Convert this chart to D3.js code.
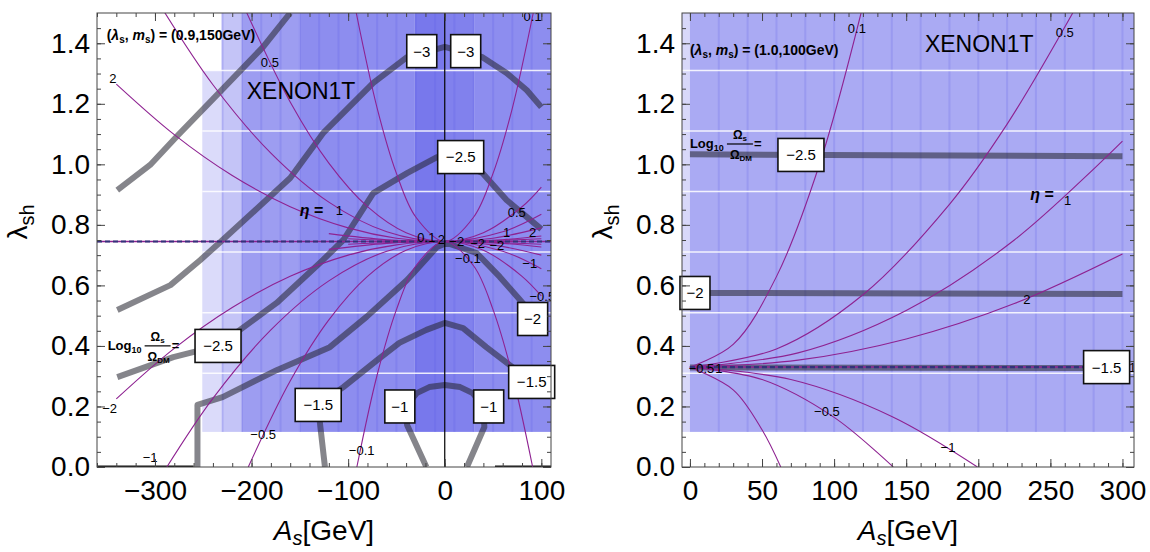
<!DOCTYPE html>
<html lang="en">
<head>
<meta charset="UTF-8">
<title>XENON1T - eta and relic density contours</title>
<script src="https://d3js.org/d3.v7.min.js"></script>
<style>
  body { margin: 0; background: #fff; }
  svg text { font-family: "Liberation Sans", Arial, sans-serif; fill: #000; }
  .tick text { font-size: 28px; }
  .tick line { stroke: #444; }
  .eta-label { font-size: 13px; }
  .box-label { font-size: 15px; }
  .header { font-size: 14px; font-weight: bold; }
  .xenon { font-size: 23px; }
  .title { font-size: 28px; }
</style>
</head>
<body>
<svg width="1150" height="552"></svg>
<script>
// ---------- shared ----------
const yTicks = [0, 0.2, 0.4, 0.6, 0.8, 1.0, 1.2, 1.4];
const rowEdges = [0.31, 0.51, 0.71, 0.91, 1.11, 1.31];   // white seams in the XENON1T shading

// ---------- left panel: (lambda_s, m_s) = (0.9, 150 GeV) ----------
const leftXTicks = [-300, -200, -100, 0, 100];
// [A from, A to, lambda from, lambda to, shade]
const leftBands = [
  [-251, -231, 0.116, 1.31, 0.22],
  [-231, -210, 0.116, 1.5, 0.36],
  [-210, -150, 0.116, 1.5, 0.6],
  [-150, -31, 0.116, 1.5, 0.7],
  [-31, 0, 0.116, 1.5, 0.83],
  [0, 31, 0.116, 1.5, 0.77],
  [31, 110, 0.116, 1.5, 0.7]
];
const leftStripes = [-230, -210, -190, -170, -150, -130, -110, -90, -70, -50, -30, -10, 10, 30, 50, 70, 90];

// Log10(Omega_s/Omega_DM) contours
const leftLogM35 = [[-339, 0.915], [-305, 0.998], [-276, 1.097], [-231, 1.245], [-188, 1.388], [-160, 1.5]];
const leftLogM3 = [[-339, 0.519], [-284, 0.601], [-253, 0.684], [-230, 0.75], [-196, 0.849], [-160, 0.955],
  [-126, 1.103], [-74, 1.269], [-39, 1.354], [0, 1.388], [39, 1.354], [64, 1.302], [85, 1.245], [100, 1.189]];
const leftLogM25 = [[-339, 0.297], [-281, 0.363], [-235, 0.4], [-212, 0.453], [-174, 0.542], [-126, 0.684],
  [-105, 0.75], [-74, 0.905], [-39, 0.971], [-8, 1.024], [2, 1.031], [39, 0.971], [64, 0.882], [100, 0.786]];
const leftLogM2 = [[-256, 0], [-256, 0.205], [-230, 0.231], [-174, 0.32], [-119, 0.396], [-81, 0.496],
  [-39, 0.618], [-23, 0.674], [-8, 0.727], [2, 0.74], [33, 0.707], [57, 0.628], [78, 0.552], [100, 0.47]];
const leftLogM15 = [[-124, 0], [-129, 0.139], [-131, 0.205], [-105, 0.264], [-70, 0.353], [-47, 0.41],
  [-19, 0.453], [0, 0.476], [19, 0.459], [43, 0.396], [70, 0.33], [100, 0.25]];
const leftLogM1 = [[-19, 0], [-39, 0.139], [-40, 0.2], [-29, 0.244], [-16, 0.264], [0, 0.271], [16, 0.264],
  [29, 0.244], [40, 0.2], [41, 0.132], [23, 0]];
const leftAxisSegments = [[[-360, 0], [-260, 0]], [[52, 0], [110, 0]]];

// [text, A, lambda]
const leftBoxes = [["−3", -23.8, 1.374], ["−3", 21.7, 1.374], ["−2.5", 16.5, 1.024], ["−2.5", -234.7, 0.4],
  ["−2", 91, 0.489], ["−1.5", -131, 0.205], ["−1.5", 90, 0.281], ["−1", -46.5, 0.2], ["−1", 45.5, 0.2]];

// eta contours (thin magenta), all meeting at lambda_sh = 0.745
const leftFocus = 0.745;
const etaL2 = [[-340, 1.265], [-280, 1.098], [-220, 0.963], [-160, 0.86], [-100, 0.79], [-50, 0.756], [0, 0.745], [50, 0.756], [100, 0.79]];
const etaL1 = [[-290, 1.502], [-240, 1.263], [-180, 1.037], [-120, 0.875], [-60, 0.777], [0, 0.745], [60, 0.777], [100, 0.835]];
const etaL05 = [[-205, 1.501], [-160, 1.206], [-120, 1.004], [-80, 0.86], [-40, 0.774], [0, 0.745], [40, 0.774], [80, 0.86], [100, 0.925]];
const etaL01 = [[-91.6, 1.5], [-70, 1.186], [-50, 0.97], [-30, 0.826], [0, 0.745], [30, 0.826], [50, 0.97], [70, 1.186], [91.6, 1.5]];
const etaL5 = [[-120, 0.771], [-60, 0.751], [0, 0.745], [60, 0.751], [100, 0.763]];
const etaL10 = [[-100, 0.754], [0, 0.745], [100, 0.754]];
const etaLm2 = [[-340, 0.225], [-280, 0.392], [-220, 0.527], [-160, 0.63], [-100, 0.7], [-50, 0.734], [0, 0.745], [50, 0.734], [100, 0.7]];
const etaLm1 = [[-287.7, 0], [-240, 0.227], [-180, 0.453], [-120, 0.615], [-60, 0.713], [0, 0.745], [60, 0.713], [100, 0.655]];
const etaLm05 = [[-203.4, 0], [-160, 0.284], [-120, 0.486], [-80, 0.63], [-40, 0.716], [0, 0.745], [40, 0.716], [80, 0.63], [100, 0.565]];
const etaLm01 = [[-91, 0], [-70, 0.304], [-50, 0.52], [-30, 0.664], [0, 0.745], [30, 0.664], [50, 0.52], [70, 0.304], [91, 0]];
const etaLm5 = [[-120, 0.719], [-60, 0.739], [0, 0.745], [60, 0.739], [100, 0.727]];
const etaLm10 = [[-100, 0.736], [0, 0.745], [100, 0.736]];
const leftEtaLabels = [["2", -343.7, 1.285], ["0.5", -181, 1.338], ["0.1", 91, 1.49], ["−2", -347, 0.195],
  ["−1", -305, 0.033], ["−0.5", -188, 0.109], ["−0.1", -86, 0.056], ["−0.1", 24, 0.69], ["−2", 12.4, 0.745],
  ["−2", 34, 0.739], ["−2", 54, 0.732], ["0.5", 74.5, 0.842], ["1", 64, 0.776], ["2", 91, 0.776],
  ["−1", 88, 0.674], ["−0.5", 101, 0.562], ["0.1", -19, 0.757], ["2", -3.5, 0.752], ["1", -109, 0.849]];

// ---------- right panel: (lambda_s, m_s) = (1.0, 100 GeV) ----------
const rightXTicks = [0, 50, 100, 150, 200, 250, 300];
const rightBands = [
  [-5.5, 0, 0.116, 1.5, 0.24],
  [0, 308, 0.116, 1.5, 0.52]
];
const rightStripes = [20, 40, 60, 80, 100, 120, 140, 160, 180, 200, 220, 240, 260, 280, 300];
const rightLogM25 = [[0, 1.033], [300, 1.027]];
const rightLogM2 = [[0, 0.575], [300, 0.572]];
const rightLogM15 = [[0, 0.329], [300, 0.327]];
const rightBoxes = [["−2.5", 77, 1.031], ["−2", 3.5, 0.575], ["−1.5", 289, 0.33]];
const rightFocus = 0.33;
const etaR01 = [[0, 0.33], [30, 0.405], [60, 0.629], [90, 1.002], [118.7, 1.5]];
const etaR05 = [[0, 0.33], [60, 0.39], [120, 0.569], [180, 0.868], [220, 1.133], [265.5, 1.5]];
const etaR1 = [[0, 0.33], [75, 0.377], [150, 0.517], [225, 0.75], [300, 1.077]];
const etaR2 = [[0, 0.33], [75, 0.353], [150, 0.423], [225, 0.54], [300, 0.704]];
const etaRm01 = [[0, 0.33], [30, 0.255], [50, 0.123], [63, 0]];
const etaRm05 = [[0, 0.33], [50, 0.289], [100, 0.164], [141, 0]];
const etaRm1 = [[0, 0.33], [70, 0.289], [140, 0.167], [199.4, 0]];
const rightEtaLabels = [["0.1", 115.8, 1.45], ["0.5", 260, 1.437], ["2", 233.7, 0.552], ["−0.5", 95, 0.182],
  ["−1", 179, 0.066], ["1", 262, 0.882], ["1", 307, 0.33], ["−0.5", 8, 0.327], ["1", 20, 0.327]];

// ---------- drawing ----------
const svg = d3.select("svg");
const shade = d3.scaleLinear().domain([0, 1]).range(["#ffffff", "#5c5ce8"]);

const panels = [
  { id: "L", xDomain: [-360, 110], left: 97, right: 551, xTicks: leftXTicks, minorStep: 20,
    bands: leftBands, stripes: leftStripes, rowFrom: -251,
    logs: [leftLogM35, leftLogM3, leftLogM25, leftLogM2, leftLogM15, leftLogM1],
    etas: [etaL2, etaL1, etaL05, etaL01, etaL5, etaL10, etaLm2, etaLm1, etaLm05, etaLm01, etaLm5, etaLm10],
    focus: leftFocus, focusRange: [-360, 110], boxes: leftBoxes, etaLabels: leftEtaLabels,
    header: ["0.9", "150GeV"], headerAt: [-350, 1.41], xenonAt: [-205, 1.215],
    etaEqAt: [-150, 0.83], logAt: [-349, 0.387], zeroLine: true, axisSegs: leftAxisSegments },
  { id: "R", xDomain: [-5.5, 308], left: 682, right: 1134, xTicks: rightXTicks, minorStep: 10,
    bands: rightBands, stripes: rightStripes, rowFrom: -5.5,
    logs: [rightLogM25, rightLogM2, rightLogM15],
    etas: [etaR01, etaR05, etaR1, etaR2, etaRm01, etaRm05, etaRm1],
    focus: rightFocus, focusRange: [0, 300], boxes: rightBoxes, etaLabels: rightEtaLabels,
    header: ["1.0", "100GeV"], headerAt: [0, 1.362], xenonAt: [163, 1.37],
    etaEqAt: [236, 0.882], logAt: [0, 1.054], zeroLine: false, axisSegs: [] }
];

const plotTop = 13, plotBottom = 467;

panels.forEach(p => {
  const x = d3.scaleLinear().domain(p.xDomain).range([p.left, p.right]);
  const y = d3.scaleLinear().domain([0, 1.5]).range([plotBottom, plotTop]);
  const clipId = "clip" + p.id;
  svg.append("clipPath").attr("id", clipId).append("rect")
    .attr("x", p.left).attr("y", plotTop).attr("width", p.right - p.left).attr("height", plotBottom - plotTop);
  const g = svg.append("g").attr("clip-path", `url(#${clipId})`);

  // XENON1T shading
  g.selectAll(null).data(p.bands).join("rect")
    .attr("x", d => x(d[0])).attr("width", d => x(d[1]) - x(d[0]))
    .attr("y", d => y(d[3])).attr("height", d => y(d[2]) - y(d[3]))
    .attr("fill", d => shade(d[4]));
  g.selectAll(null).data(p.stripes).join("line")
    .attr("x1", d => x(d)).attr("x2", d => x(d))
    .attr("y1", y(0.116)).attr("y2", y(1.5))
    .attr("stroke", "#5c5ce8").attr("stroke-opacity", 0.2).attr("stroke-width", 2);
  g.selectAll(null).data(rowEdges).join("line")
    .attr("x1", x(p.rowFrom)).attr("x2", p.right)
    .attr("y1", d => y(d)).attr("y2", d => y(d))
    .attr("stroke", "#fff").attr("stroke-opacity", 0.85).attr("stroke-width", 1.5);

  // relic density contours
  const lin = d3.line().x(d => x(d[0])).y(d => y(d[1]));
  g.selectAll(null).data(p.logs).join("path")
    .attr("d", lin).attr("fill", "none")
    .attr("stroke", "#262630").attr("stroke-opacity", 0.56)
    .attr("stroke-width", 6).attr("stroke-linejoin", "round");
  g.selectAll(null).data(p.axisSegs).join("path")
    .attr("d", lin).attr("stroke", "#111").attr("stroke-width", 3);

  // eta curves
  const smooth = d3.line().x(d => x(d[0])).y(d => y(d[1])).curve(d3.curveCatmullRom);
  g.selectAll(null).data(p.etas).join("path")
    .attr("d", smooth).attr("fill", "none")
    .attr("stroke", "#8e2291").attr("stroke-width", 1.1);

  // eta -> infinity line (dashed)
  const fl = [[p.focusRange[0], p.focus], [p.focusRange[1], p.focus]];
  g.append("path").attr("d", lin(fl)).attr("stroke", "#8e2291").attr("stroke-width", 1.5);
  g.append("path").attr("d", lin(fl)).attr("stroke", "#33337a").attr("stroke-width", 2.2)
    .attr("stroke-dasharray", "5,3");

  if (p.zeroLine) {
    g.append("line").attr("x1", x(0)).attr("x2", x(0)).attr("y1", plotTop).attr("y2", plotBottom)
      .attr("stroke", "#000").attr("stroke-width", 1.2);
  }

  // eta labels
  g.selectAll(null).data(p.etaLabels).join("text")
    .attr("class", "eta-label")
    .attr("x", d => x(d[1])).attr("y", d => y(d[2]))
    .attr("text-anchor", "middle").attr("dy", "0.35em")
    .text(d => d[0]);

  // eta = label
  g.append("text")
    .attr("x", x(p.etaEqAt[0])).attr("y", y(p.etaEqAt[1]))
    .attr("font-size", 16).attr("font-weight", "bold")
    .html('<tspan font-style="italic">η</tspan> =');

  // XENON1T
  g.append("text").attr("class", "xenon")
    .attr("x", x(p.xenonAt[0])).attr("y", y(p.xenonAt[1])).text("XENON1T");

  // (lambda_s, m_s) header
  const h = g.append("text").attr("class", "header")
    .attr("x", x(p.headerAt[0])).attr("y", y(p.headerAt[1]));
  h.append("tspan").text("(");
  h.append("tspan").attr("font-style", "italic").text("λ");
  h.append("tspan").attr("font-size", 10).attr("dy", 3).text("s");
  h.append("tspan").attr("dy", -3).text(", ");
  h.append("tspan").attr("font-style", "italic").text("m");
  h.append("tspan").attr("font-size", 10).attr("dy", 3).text("s");
  h.append("tspan").attr("dy", -3).text(`) = (${p.header[0]},${p.header[1]})`);

  // Log10 Omega_s / Omega_DM =
  const lx = x(p.logAt[0]), ly = y(p.logAt[1]);
  const lg = svg.append("g").attr("transform", `translate(${lx},${ly})`)
    .attr("font-weight", "bold");
  const lt = lg.append("text").attr("font-size", 13);
  lt.append("tspan").text("Log");
  lt.append("tspan").attr("font-size", 9).attr("dy", 3).text("10");
  const num = lg.append("text").attr("x", 50).attr("y", -9).attr("text-anchor", "middle").attr("font-size", 12);
  num.append("tspan").text("Ω");
  num.append("tspan").attr("font-size", 8).attr("dy", 2).text("s");
  lg.append("line").attr("x1", 37).attr("x2", 63).attr("y1", -4).attr("y2", -4)
    .attr("stroke", "#000").attr("stroke-width", 1.2);
  const den = lg.append("text").attr("x", 51).attr("y", 11).attr("text-anchor", "middle").attr("font-size", 12);
  den.append("tspan").text("Ω");
  den.append("tspan").attr("font-size", 8).attr("dy", 2).text("DM");
  lg.append("text").attr("x", 64).attr("y", 0).attr("font-size", 13).text("=");

  // contour value boxes
  const b = svg.append("g").selectAll(null).data(p.boxes).join("g")
    .attr("transform", d => `translate(${x(d[1])},${y(d[2])})`);
  b.append("rect")
    .attr("x", d => -(d[0].length * 8 + 14) / 2).attr("y", -16.5)
    .attr("width", d => d[0].length * 8 + 14).attr("height", 33)
    .attr("fill", "#fff").attr("stroke", "#111").attr("stroke-width", 1.6);
  b.append("text").attr("class", "box-label").attr("text-anchor", "middle").attr("dy", "0.36em")
    .text(d => d[0]);

  // frame and ticks (inside)
  const ax = svg.append("g");
  const minorX = d3.range(Math.ceil(p.xDomain[0] / p.minorStep) * p.minorStep, p.xDomain[1], p.minorStep);
  const minorY = d3.range(0, 1.5, 0.05);
  const noDomain = s => s.select(".domain").remove();
  ax.append("g").attr("transform", `translate(0,${plotBottom})`)
    .call(d3.axisBottom(x).tickValues(minorX).tickSize(-4).tickFormat("")).call(noDomain);
  ax.append("g").attr("transform", `translate(0,${plotTop})`)
    .call(d3.axisTop(x).tickValues(minorX).tickSize(-4).tickFormat("")).call(noDomain);
  ax.append("g").attr("transform", `translate(${p.left},0)`)
    .call(d3.axisLeft(y).tickValues(minorY).tickSize(-4).tickFormat("")).call(noDomain);
  ax.append("g").attr("transform", `translate(${p.right},0)`)
    .call(d3.axisRight(y).tickValues(minorY).tickSize(-4).tickFormat("")).call(noDomain);
  ax.append("g").attr("transform", `translate(0,${plotBottom})`)
    .call(d3.axisBottom(x).tickValues(p.xTicks).tickSize(-8).tickPadding(13).tickFormat(d3.format("d")))
    .call(noDomain);
  ax.append("g").attr("transform", `translate(0,${plotTop})`)
    .call(d3.axisTop(x).tickValues(p.xTicks).tickSize(-8).tickFormat("")).call(noDomain);
  ax.append("g").attr("transform", `translate(${p.left},0)`)
    .call(d3.axisLeft(y).tickValues(yTicks).tickSize(-8).tickPadding(7).tickFormat(d3.format(".1f")))
    .call(noDomain);
  ax.append("g").attr("transform", `translate(${p.right},0)`)
    .call(d3.axisRight(y).tickValues(yTicks).tickSize(-8).tickFormat("")).call(noDomain);
  ax.selectAll("text").attr("font-family", null).attr("font-size", null);
  ax.append("rect").attr("x", p.left).attr("y", plotTop)
    .attr("width", p.right - p.left).attr("height", plotBottom - plotTop)
    .attr("fill", "none").attr("stroke", "#444").attr("stroke-width", 1);

  // axis titles
  const cx = (p.left + p.right) / 2;
  const xt = svg.append("text").attr("class", "title").attr("x", cx).attr("y", 540).attr("text-anchor", "middle");
  xt.append("tspan").attr("font-style", "italic").text("A");
  xt.append("tspan").attr("font-style", "italic").attr("font-size", 20).attr("dy", 5).text("s");
  xt.append("tspan").attr("dy", -5).text("[GeV]");
  const yt = svg.append("text").attr("class", "title").attr("text-anchor", "middle")
    .attr("transform", `translate(${p.left - 70},222) rotate(-90)`);
  yt.append("tspan").text("λ");
  yt.append("tspan").attr("font-size", 20).attr("dy", 7).text("sh");
});
</script>
</body>
</html>
